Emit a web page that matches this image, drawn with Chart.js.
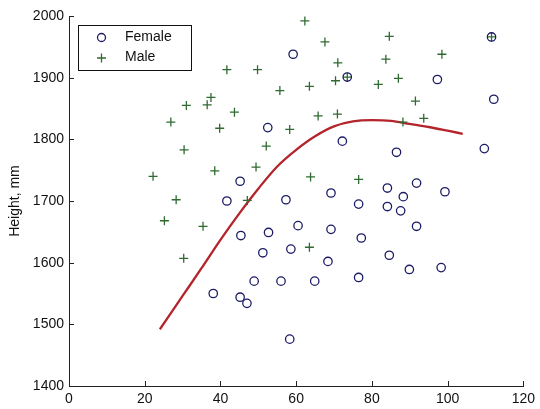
<!DOCTYPE html>
<html>
<head>
<meta charset="utf-8">
<script src="https://cdn.jsdelivr.net/npm/chart.js@4/dist/chart.umd.min.js"></script>
<style>
html,body{margin:0;padding:0;background:#fff;}
#wrap{width:540px;height:409px;position:relative;}
</style>
</head>
<body>
<div id="wrap"><canvas id="c" width="540" height="409"></canvas></div>
<script>
// Female (age-like x, height y)
const femaleX = [59.2,52.5,45.2,41.7,57.3,45.4,52.7,60.5,51.2,58.6,48.9,56.0,64.9,38.1,45.2,47.0,58.3,72.2,86.5,109.7,112.2,97.3,111.6,73.5,69.2,84.1,91.8,88.3,99.3,76.5,84.1,87.6,69.2,91.8,77.2,68.4,84.6,76.5,89.9,98.3];
const femaleY = [1938,1819,1732,1700,1702,1644,1649,1660,1616,1622,1570,1570,1570,1550,1544,1534,1476,1797,1779,1785,1865,1897,1966,1901,1713,1721,1729,1707,1715,1695,1691,1684,1654,1659,1640,1602,1612,1576,1589,1592];
// Male
const maleX = [62.3,67.6,84.6,71.0,83.7,98.5,70.4,73.5,81.7,87.0,91.5,70.9,65.8,93.7,88.2,111.6,41.7,49.8,63.5,55.7,37.5,36.5,31.0,43.7,26.9,39.8,58.3,30.4,52.1,22.2,38.5,49.4,63.8,76.5,28.3,47.1,25.2,35.4,30.3,63.5];
const maleY = [1992,1958,1967,1924,1930,1938,1895,1901,1889,1899,1862,1841,1838,1834,1828,1966,1913,1913,1886,1879,1868,1856,1855,1844,1828,1818,1816,1783,1789,1740,1749,1755,1739,1735,1702,1701,1668,1659,1607,1625];
// Fitted curve
const fitX = [24,30,35,40,45,50,55,60,65,70,75,80,85,90,95,100,104];
const fitY = [1492,1546,1591,1637,1680,1720,1756,1783,1805,1821,1829,1831,1830,1825,1820,1814,1809];
const xTicks = [0,20,40,60,80,100,120];
const yTicks = [1400,1500,1600,1700,1800,1900,2000];
const legendLabels = ['Female','Male'];

const toPts = (xs, ys) => xs.map((x,i)=>({x:x, y:ys[i]}));
const FEMALE_COL = '#1c1c66';
const MALE_COL = '#2f6a30';
const LINE_COL = '#b3242b';
const FONT = 'Liberation Sans, Arial, sans-serif';

const innerTicks = {
  id:'innerTicks',
  afterDraw(chart){
    const ctx = chart.ctx, xs = chart.scales.x, ys = chart.scales.y, a = chart.chartArea;
    ctx.save();
    ctx.strokeStyle = '#222';
    ctx.lineWidth = 1;
    ctx.beginPath();
    xTicks.forEach(v=>{const p=Math.round(xs.getPixelForValue(v))+0.5; ctx.moveTo(p,a.bottom); ctx.lineTo(p,a.bottom-5);});
    yTicks.forEach(v=>{const p=Math.round(ys.getPixelForValue(v))+0.5; ctx.moveTo(a.left,p); ctx.lineTo(a.left+5,p);});
    ctx.stroke();
    // legend
    const bx=78, by=25, bw=113, bh=45;
    ctx.fillStyle='#fff';
    ctx.fillRect(bx,by,bw,bh);
    ctx.strokeStyle='#111';
    ctx.strokeRect(bx+0.5,by+0.5,bw,bh);
    ctx.lineWidth=1.3;
    ctx.strokeStyle=FEMALE_COL;
    ctx.beginPath(); ctx.arc(101.5,37.5,4,0,Math.PI*2); ctx.stroke();
    ctx.strokeStyle=MALE_COL;
    ctx.beginPath(); ctx.moveTo(97,58); ctx.lineTo(106,58); ctx.moveTo(101.5,53.5); ctx.lineTo(101.5,62.5); ctx.stroke();
    ctx.fillStyle='#111';
    ctx.font='14px '+FONT;
    ctx.textBaseline='middle';
    ctx.textAlign='left';
    ctx.fillText(legendLabels[0],125,37.5);
    ctx.fillText(legendLabels[1],125,57.5);
    ctx.restore();
  }
};

new Chart(document.getElementById('c'), {
  type:'scatter',
  data:{
    datasets:[
      {label:legendLabels[0], data:toPts(femaleX,femaleY), pointStyle:'circle', pointRadius:4.2, pointBorderWidth:1.3, borderColor:FEMALE_COL, backgroundColor:'rgba(0,0,0,0)'},
      {label:legendLabels[1], data:toPts(maleX,maleY), pointStyle:'cross', pointRadius:4.5, pointBorderWidth:1.3, borderColor:MALE_COL, backgroundColor:MALE_COL},
      {type:'line', label:'fit', data:toPts(fitX,fitY), borderColor:LINE_COL, borderWidth:2.3, pointRadius:0, fill:false, cubicInterpolationMode:'monotone', tension:0.4}
    ]
  },
  options:{
    responsive:false,
    animation:false,
    events:[],
    layout:{padding:{top:16,right:13,left:0,bottom:0}},
    plugins:{legend:{display:false}, tooltip:{enabled:false}},
    scales:{
      x:{
        type:'linear', min:0, max:120,
        afterBuildTicks(s){ s.ticks = xTicks.map(v=>({value:v})); },
        afterFit(s){ s.height = 23; },
        border:{display:true,color:'#222',width:1},
        grid:{display:false, drawTicks:false},
        ticks:{color:'#111', font:{family:FONT,size:14}, padding:5, maxRotation:0, callback:v=>String(v)}
      },
      y:{
        type:'linear', min:1400, max:2000,
        afterBuildTicks(s){ s.ticks = yTicks.map(v=>({value:v})); },
        afterFit(s){ s.width = 69; },
        border:{display:true,color:'#222',width:1},
        grid:{display:false, drawTicks:false},
        ticks:{color:'#111', font:{family:FONT,size:14}, padding:5, callback:v=>String(v)},
        title:{display:true, text:'Height, mm', color:'#111', font:{family:FONT,size:14}, padding:{top:7,bottom:0}}
      }
    }
  },
  plugins:[innerTicks]
});
</script>
</body>
</html>
